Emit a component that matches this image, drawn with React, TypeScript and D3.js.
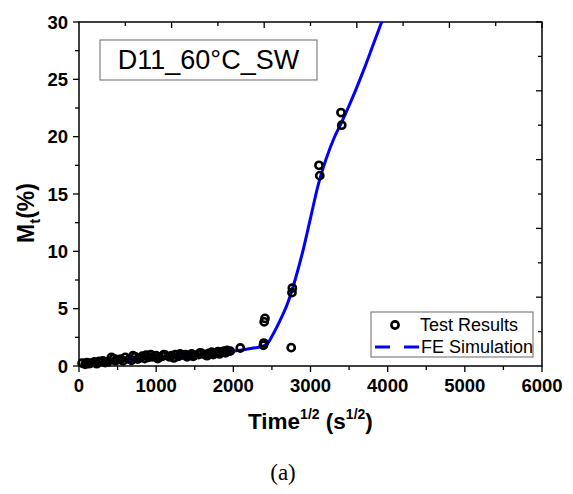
import React from "react";
import * as d3 from "d3";

const testX = [40, 80, 100, 130, 150, 200, 230, 260, 310, 340, 370, 420, 450, 470, 500, 540, 570, 600, 650, 680, 700, 730, 760, 780, 820, 850, 870, 900, 930, 950, 1000, 1020, 1040, 1080, 1100, 1120, 1170, 1200, 1230, 1250, 1290, 1310, 1330, 1380, 1400, 1420, 1460, 1480, 1500, 1550, 1570, 1590, 1630, 1660, 1680, 1720, 1740, 1760, 1800, 1820, 1840, 1880, 1900, 1920, 1960, 2090, 2390, 2395, 2400, 2410, 2750, 2760, 2765, 3110, 3120, 3395, 3405];
const testY = [0.25, 0.15, 0.3, 0.2, 0.25, 0.35, 0.2, 0.4, 0.45, 0.3, 0.35, 0.75, 0.65, 0.45, 0.55, 0.6, 0.45, 0.75, 0.6, 0.5, 0.9, 0.8, 0.6, 0.7, 0.85, 0.65, 0.95, 0.75, 1.0, 0.8, 0.9, 0.65, 0.75, 0.85, 1.0, 0.95, 0.8, 0.9, 0.7, 1.0, 0.85, 1.05, 0.95, 1.0, 0.8, 0.9, 1.05, 0.85, 0.95, 1.0, 1.15, 1.1, 1.0, 0.9, 1.1, 1.2, 1.0, 1.1, 1.25, 1.05, 1.2, 1.3, 1.15, 1.35, 1.3, 1.57, 1.8, 2.0, 3.85, 4.15, 1.6, 6.4, 6.8, 17.5, 16.6, 22.1, 21.0];

const feX = [0, 200, 500, 1000, 1500, 2000, 2200, 2430, 2500, 2600, 2700, 2800, 2900, 3000, 3100, 3200, 3300, 3400, 3500, 3600, 3700, 3800, 3900, 4000];
const feY = [0, 0.15, 0.4, 0.75, 0.95, 1.3, 1.5, 1.85, 2.6, 3.9, 5.4, 7.5, 10.0, 12.9, 15.8, 18.0, 19.8, 21.2, 22.7, 24.3, 26.0, 27.8, 29.6, 31.4];

const xMajor = [0, 1000, 2000, 3000, 4000, 5000, 6000];
const yMajor = [0, 5, 10, 15, 20, 25, 30];

const W = 573, H = 494;
const L = 79, T = 22, R = 542, B = 366;

export default function App() {
  const x = d3.scaleLinear().domain([0, 6000]).range([L, R]);
  const y = d3.scaleLinear().domain([0, 30]).range([B, T]);
  const line = d3.line<number>().x((_, i) => x(feX[i])).y((_, i) => y(feY[i])).curve(d3.curveMonotoneX);
  const xMinor = d3.range(500, 6000, 1000);
  const yMinor = d3.range(2.5, 30, 5);
  const topMajor = d3.range(1200, 6001, 1200);
  const topMinor = d3.range(600, 6000, 1200);
  const rightMajor = d3.range(6, 31, 6);
  const rightMinor = d3.range(3, 30, 6);
  const font = "'Liberation Sans', Arial, sans-serif";
  return (
    <svg width={W} height={H} style={{ position: "absolute", left: 0, top: 0, background: "#fff" }}>
      <defs>
        <clipPath id="plot">
          <rect x={L} y={T} width={R - L} height={B - T} />
        </clipPath>
      </defs>
      <g stroke="#000" strokeWidth={1.3}>
        {xMajor.map((v) => <line key={"xm" + v} x1={x(v)} x2={x(v)} y1={B} y2={B + 6} />)}
        {xMinor.map((v) => <line key={"xn" + v} x1={x(v)} x2={x(v)} y1={B} y2={B + 4} />)}
        {yMajor.map((v) => <line key={"ym" + v} x1={L - 6} x2={L} y1={y(v)} y2={y(v)} />)}
        {yMinor.map((v) => <line key={"yn" + v} x1={L - 4} x2={L} y1={y(v)} y2={y(v)} />)}
        {topMajor.map((v) => <line key={"tm" + v} x1={x(v)} x2={x(v)} y1={T} y2={T + 6} />)}
        {topMinor.map((v) => <line key={"tn" + v} x1={x(v)} x2={x(v)} y1={T} y2={T + 4} />)}
        {rightMajor.map((v) => <line key={"rm" + v} x1={R - 6} x2={R} y1={y(v)} y2={y(v)} />)}
        {rightMinor.map((v) => <line key={"rn" + v} x1={R - 4} x2={R} y1={y(v)} y2={y(v)} />)}
      </g>
      <rect x={L} y={T} width={R - L} height={B - T} fill="none" stroke="#000" strokeWidth={1.5} />
      <g fontFamily={font} fontWeight="bold" fontSize={18.5} fill="#000">
        {xMajor.map((v) => <text key={"xl" + v} x={x(v)} y={392} textAnchor="middle">{v}</text>)}
        {yMajor.map((v) => <text key={"yl" + v} x={L - 11} y={y(v) + 6.5} textAnchor="end">{v}</text>)}
      </g>
      <path d={line(feX) || ""} fill="none" stroke="#0000ff" strokeWidth={3} clipPath="url(#plot)" />
      <g fill="none" stroke="#000" strokeWidth={2.6}>
        {testX.map((v, i) => <circle key={"p" + i} cx={x(v)} cy={y(testY[i])} r={3.6} />)}
      </g>
      <rect x={100} y={40} width={217} height={40} fill="#fff" stroke="#808080" strokeWidth={1.2} />
      <text x={208.5} y={69} textAnchor="middle" fontFamily={font} fontSize={27} fill="#000">D11_60°C_SW</text>
      <rect x={371} y={312} width={162} height={45} fill="#fff" stroke="#808080" strokeWidth={1.2} />
      <circle cx={395} cy={325} r={3.6} fill="none" stroke="#000" strokeWidth={2.6} />
      <text x={420} y={331} fontFamily={font} fontSize={18} fill="#000">Test Results</text>
      <line x1={375} x2={419} y1={347} y2={347} stroke="#0000ff" strokeWidth={3} strokeDasharray="15,14" />
      <text x={421} y={353} fontFamily={font} fontSize={18} fill="#000">FE Simulation</text>
      <text x={248} y={429} fontFamily={font} fontWeight="bold" fontSize={22.5} fill="#000">
        Time<tspan dy={-10} fontSize={14}>1/2</tspan><tspan dy={10}> (s</tspan><tspan dy={-10} fontSize={14}>1/2</tspan><tspan dy={10}>)</tspan>
      </text>
      <text transform="translate(34,243) rotate(-90)" fontFamily={font} fontWeight="bold" fontSize={23} fill="#000">
        M<tspan dy={6} fontSize={15}>t</tspan><tspan dy={-6}>(%)</tspan>
      </text>
      <text x={283} y={480} textAnchor="middle" fontFamily="'Liberation Serif', 'Times New Roman', serif" fontSize={23} fill="#000">(a)</text>
    </svg>
  );
}
